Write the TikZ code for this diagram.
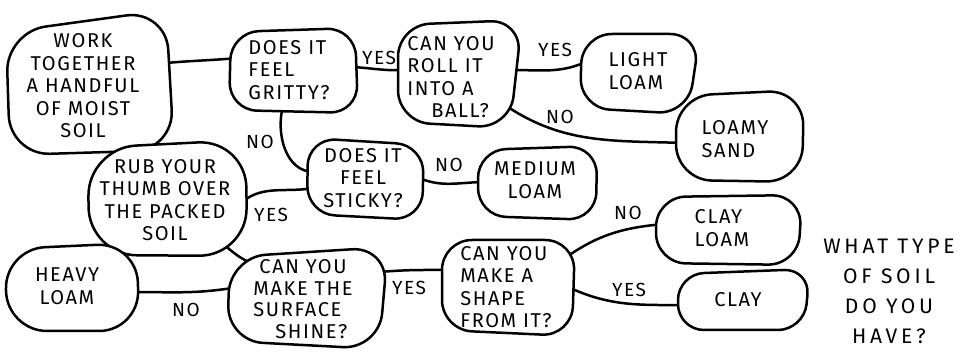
\documentclass[tikz,border=0pt]{standalone}
\usepackage{fontspec}
\newfontfamily\hand[LetterSpace=8]{Fira Sans}
\newfontfamily\handlbl[LetterSpace=8]{Fira Sans}
\newfontfamily\handttl[LetterSpace=18]{Fira Sans}
\usetikzlibrary{backgrounds}
\tikzset{
  txt/.style={font=\hand\fontsize{20}{22.5}\selectfont, inner sep=0pt},
  blob/.style={draw, fill=white, line width=2.5pt, line join=round},
  lbl/.style={font=\handlbl\fontsize{19}{20}\selectfont, inner sep=0pt},
  conn/.style={line width=2.5pt, line cap=round},
}
\begin{document}
\begin{tikzpicture}[x=1pt,y=-1pt]
\useasboundingbox (0,0) rectangle (967,355);
% blob outlines
\draw[blob, rounded corners=40pt] (6,32) -- (166,10) -- (174,150) -- (10,155) -- cycle;
\draw[blob, rounded corners=28pt] (231,32) -- (355,28) -- (358,113) -- (229,110) -- cycle;
\draw[blob, rounded corners=32pt] (398,25) -- (522,20) -- (510,128) -- (398,122) -- cycle;
\draw[blob, rounded corners=30pt] (582,34) -- (700,34) -- (688,114) -- (580,108) -- cycle;
\draw[blob, rounded corners=36pt] (676,96) -- (804,90) -- (802,182) -- (676,180) -- cycle;
\draw[blob, rounded corners=28pt] (308,138) -- (424,145) -- (422,220) -- (307,214) -- cycle;
\draw[blob, rounded corners=28pt] (478,150) -- (597,146) -- (596,220) -- (478,216) -- cycle;
\draw[blob, rounded corners=48pt] (88,148) -- (246,140) -- (247,256) -- (89,255) -- cycle;
\draw[blob, rounded corners=40pt] (5,249) -- (137,243) -- (139,331) -- (7,331) -- cycle;
\draw[blob, rounded corners=36pt] (230,257) -- (388,247) -- (379,349) -- (227,341) -- cycle;
\draw[blob, rounded corners=30pt] (442,240) -- (575,240) -- (572,336) -- (442,330) -- cycle;
\draw[blob, rounded corners=30pt] (656,197) -- (802,195) -- (798,265) -- (656,263) -- cycle;
\draw[blob, rounded corners=26pt] (678,274) -- (810,269) -- (804,330) -- (678,330) -- cycle;
% texts
\node[txt, align=center] (work) at (83,86) {WORK\\TOGETHER\\A HANDFUL\\OF MOIST\\SOIL};
\node[txt, align=left] (gritty) at (289,70) {DOES IT\\FEEL\\GRITTY?};
\node[txt, align=left] (roll) at (451,77) {CAN YOU\\ROLL IT\\INTO A\\\hspace{1.2em}BALL?};
\node[txt, align=left] (light) at (638,71) {LIGHT\\LOAM};
\node[txt, align=left] (loamy) at (735,139) {LOAMY\\SAND};
\node[txt, align=center] (sticky) at (363,178) {DOES IT\\FEEL\\STICKY?};
\node[txt, align=center] (medium) at (535,180) {MEDIUM\\LOAM};
\node[txt, align=center] (rub) at (165,200) {RUB YOUR\\THUMB OVER\\THE PACKED\\SOIL};
\node[txt, align=center] (heavy) at (67,286) {HEAVY\\LOAM};
\node[txt, align=left, font=\hand\fontsize{20}{21.5}\selectfont] (shine) at (303,299) {\hspace{0.3em}CAN YOU\\MAKE THE\\SURFACE\\\hspace{1.1em}SHINE?};
\node[txt, align=left] (shape) at (506,287) {CAN YOU\\MAKE A\\SHAPE\\FROM IT?};
\node[txt, align=left] (clayloam) at (722,228) {CLAY\\LOAM};
\node[txt, align=center] (clay) at (738,300) {CLAY};
% title
\node[align=center, inner sep=0pt, font=\handttl\fontsize{21}{30}\selectfont] (title) at (889,291) {WHAT TYPE\\OF SOIL\\DO YOU\\HAVE?};
% labels
\node[lbl] (l1) at (379,58) {YES};
\node[lbl] (l2) at (555,50) {YES};
\node[lbl] (l3) at (560,117) {NO};
\node[lbl] (l4) at (260,142) {NO};
\node[lbl] (l5) at (449,165) {NO};
\node[lbl] (l6) at (271,215) {YES};
\node[lbl] (l7) at (186,310) {NO};
\node[lbl] (l8) at (409,288) {YES};
\node[lbl] (l9) at (628,213) {NO};
\node[lbl] (l10) at (629,290) {YES};
% connectors
\begin{scope}[on background layer]
\draw[conn] ([shift={(83,-23)}]work.center) to[out=5,in=185] ([shift={(-51,-12)}]gritty.center);
\draw[conn] ([shift={(63,-3)}]gritty.center) to[out=-3,in=183] ([shift={(-46,-7)}]roll.center);
\draw[conn] ([shift={(61,-7)}]roll.center) to[out=0,in=205] ([shift={(-50,-10)}]light.center);
\draw[conn] ([shift={(51,26)}]roll.center) to[out=-35,in=178] ([shift={(-51,4)}]loamy.center);
\draw[conn] ([shift={(-6,36)}]gritty.center) to[out=-105,in=180] ([shift={(-49,-6)}]sticky.center);
\draw[conn] ([shift={(54,-1)}]sticky.center) to[out=-25,in=180] ([shift={(-49,2)}]medium.center);
\draw[conn] ([shift={(-49,10)}]sticky.center) to[out=190,in=45] ([shift={(74,5)}]rub.center);
\draw[conn] ([shift={(57,43)}]rub.center) to[out=-40,in=160] ([shift={(-49,-35)}]shine.center);
\draw[conn] ([shift={(65,6)}]heavy.center) to[out=0,in=190] ([shift={(-65,-12)}]shine.center);
\draw[conn] ([shift={(77,-27)}]shine.center) to[out=5,in=180] ([shift={(-56,-17)}]shape.center);
\draw[conn] ([shift={(59,-29)}]shape.center) to[out=35,in=185] ([shift={(-58,-4)}]clayloam.center);
\draw[conn] ([shift={(62,0)}]shape.center) to[out=-25,in=180] ([shift={(-52,5)}]clay.center);
\end{scope}
\end{tikzpicture}
\end{document}
